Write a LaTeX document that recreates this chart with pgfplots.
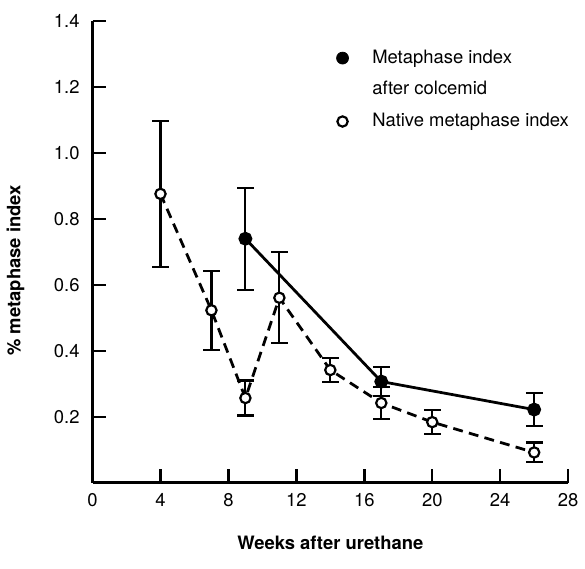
\documentclass[border=0pt]{standalone}
\usepackage{pgfplots}
\pgfplotsset{compat=1.18}
\usepackage{fontspec}
\setmainfont{TeX Gyre Heros}

\begin{document}
\begin{tikzpicture}
\begin{axis}[
    scale only axis,
    width=240pt,
    height=233pt,
    xmin=0, xmax=28,
    ymin=0, ymax=1.4,
    axis lines*=left,
    axis line style={line width=1.4pt},
    tick align=inside,
    major tick length=7pt,
    tick style={line width=1.2pt, black},
    xtick={0,4,...,28},
    ytick={0.2,0.4,...,1.4},
    font=\fontsize{9.3}{11}\selectfont,
    /pgf/number format/assume math mode=true,
    yticklabel style={xshift=-3pt, /pgf/number format/.cd, fixed, fixed zerofill, precision=1},
    xticklabel style={yshift=-2pt},
    xlabel={\bfseries Weeks after urethane},
    ylabel={\bfseries \% metaphase index},
    xlabel style={at={(axis description cs:0.5,-0.13)}, anchor=center},
    ylabel style={at={(axis description cs:-0.162,0.46)}, anchor=center},
    clip=false,
    legend style={draw=none, fill=none, at={(axis cs:13.35,1.349)}, anchor=north west,
        font=\fontsize{9.3}{11}\selectfont, row sep=0pt, column sep=10pt,
        nodes={text height=8.5pt, text depth=3.5pt}},
    legend cell align=left,
]
% Metaphase index after colcemid
\addplot[
    forget plot,
    black, line width=1.4pt,
    mark=*, mark size=2.8pt,
    mark options={solid, fill=black},
    error bars/.cd, y dir=both, y explicit,
    error bar style={line width=1.1pt, solid},
    error mark options={rotate=90, mark size=4.2pt, line width=1.1pt},
] coordinates {
    (9,0.74) +- (0,0.155)
    (17,0.307) +- (0,0.043)
    (26,0.222) +- (0,0.05)
};
% Native metaphase index
\addplot[
    forget plot,
    black, line width=1.4pt, dash pattern=on 5pt off 3.2pt,
    mark=*, mark size=2.6pt,
    mark options={solid, fill=white, line width=1.1pt},
    error bars/.cd, y dir=both, y explicit,
    error bar style={line width=1.1pt, solid},
    error mark options={rotate=90, mark size=4.2pt, line width=1.1pt},
] coordinates {
    (4,0.876) +- (0,0.222)
    (7,0.523) +- (0,0.12)
    (9,0.257) +- (0,0.053)
    (11,0.561) +- (0,0.138)
    (14,0.342) +- (0,0.036)
    (17,0.242) +- (0,0.048)
    (20,0.184) +- (0,0.037)
    (26,0.092) +- (0,0.03)
};
\addlegendimage{only marks, mark=*, mark size=3pt, fill=black}
\addlegendentry{Metaphase index}
\addlegendimage{empty legend}
\addlegendentry{after colcemid}
\addlegendimage{only marks, mark=*, mark size=2.6pt, mark options={fill=white, line width=1.1pt}}
\addlegendentry{Native metaphase index}
\end{axis}
% a little more room above and below, as in the original
\path ([yshift=4pt]current axis.outer north) ([yshift=-6pt]current axis.outer south);
\end{tikzpicture}
\end{document}
